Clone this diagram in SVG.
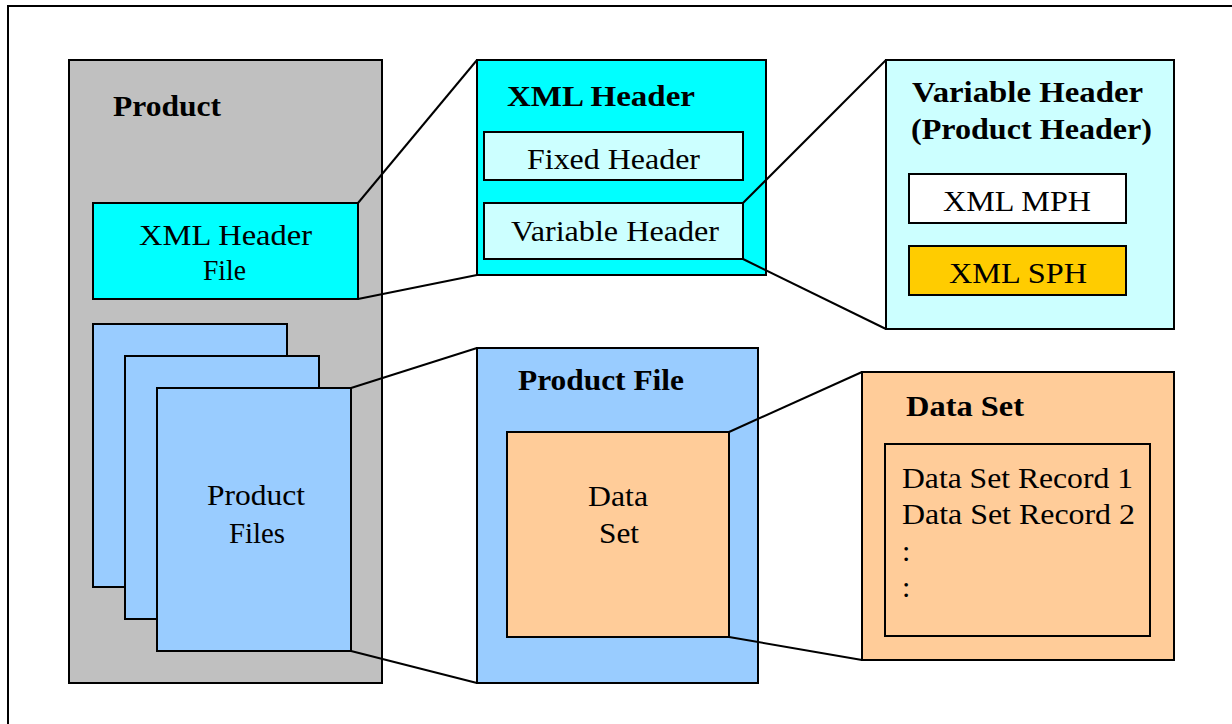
<svg xmlns="http://www.w3.org/2000/svg" width="1232" height="724" viewBox="0 0 1232 724">
<style>
.box{stroke:#000;stroke-width:2}
.t{font-family:"Liberation Serif","Times New Roman",serif;font-size:30px;fill:#000}
.b{font-weight:bold}
.ln{stroke:#000;stroke-width:2;fill:none}
</style>
<rect width="1232" height="724" fill="#fff"/>
<path d="M8,724 V6 H1232" class="ln"/>
<g id="product">
<rect class="box" x="69" y="60" width="313" height="623" fill="#C0C0C0"/>
<text class="t b" x="113" y="116" textLength="108" lengthAdjust="spacingAndGlyphs">Product</text>
</g>
<g id="xml-header-file">
<rect class="box" x="93" y="203" width="265" height="96" fill="#00FFFF"/>
<text class="t" x="139" y="245" textLength="173" lengthAdjust="spacingAndGlyphs">XML Header</text>
<text class="t" x="203" y="280" textLength="43" lengthAdjust="spacingAndGlyphs">File</text>
</g>
<g id="product-files">
<rect class="box" x="93" y="324" width="194" height="263" fill="#99CCFF"/>
<rect class="box" x="125" y="356" width="194" height="263" fill="#99CCFF"/>
<rect class="box" x="157" y="388" width="194" height="263" fill="#99CCFF"/>
<text class="t" x="207" y="505" textLength="98" lengthAdjust="spacingAndGlyphs">Product</text>
<text class="t" x="229" y="543" textLength="56" lengthAdjust="spacingAndGlyphs">Files</text>
</g>
<g id="xml-header">
<rect class="box" x="477" y="60" width="289" height="215" fill="#00FFFF"/>
<text class="t b" x="507" y="106" textLength="188" lengthAdjust="spacingAndGlyphs">XML Header</text>
</g>
<g id="fixed-header">
<rect class="box" x="484" y="132" width="259" height="48" fill="#CCFFFF"/>
<text class="t" x="527" y="169" textLength="173" lengthAdjust="spacingAndGlyphs">Fixed Header</text>
</g>
<g id="variable-header">
<rect class="box" x="484" y="203" width="259" height="56" fill="#CCFFFF"/>
<text class="t" x="511" y="241" textLength="208" lengthAdjust="spacingAndGlyphs">Variable Header</text>
</g>
<g id="variable-header-detail">
<rect class="box" x="886" y="60" width="288" height="269" fill="#CCFFFF"/>
<text class="t b" x="912" y="102" textLength="231" lengthAdjust="spacingAndGlyphs">Variable  Header</text>
<text class="t b" x="911" y="139" textLength="241" lengthAdjust="spacingAndGlyphs">(Product Header)</text>
</g>
<g id="xml-mph">
<rect class="box" x="909" y="174" width="217" height="49" fill="#FFFFFF"/>
<text class="t" x="943" y="211" textLength="148" lengthAdjust="spacingAndGlyphs">XML MPH</text>
</g>
<g id="xml-sph">
<rect class="box" x="909" y="246" width="217" height="49" fill="#FFCC00"/>
<text class="t" x="949" y="283" textLength="138" lengthAdjust="spacingAndGlyphs">XML SPH</text>
</g>
<g id="product-file">
<rect class="box" x="477" y="348" width="281" height="335" fill="#99CCFF"/>
<text class="t b" x="518" y="390" textLength="166" lengthAdjust="spacingAndGlyphs">Product File</text>
</g>
<g id="data-set-small">
<rect class="box" x="507" y="432" width="222" height="205" fill="#FFCC99"/>
<text class="t" x="588" y="506" textLength="60" lengthAdjust="spacingAndGlyphs">Data</text>
<text class="t" x="599" y="543" textLength="40" lengthAdjust="spacingAndGlyphs">Set</text>
</g>
<g id="data-set">
<rect class="box" x="862" y="372" width="312" height="288" fill="#FFCC99"/>
<text class="t b" x="906" y="416" textLength="118" lengthAdjust="spacingAndGlyphs">Data Set</text>
<rect class="box" x="885" y="444" width="265" height="192" fill="#FFCC99"/>
<text class="t" x="902" y="488" textLength="231" lengthAdjust="spacingAndGlyphs">Data Set Record 1</text>
<text class="t" x="902" y="524" textLength="233" lengthAdjust="spacingAndGlyphs">Data Set Record 2</text>
<text class="t" x="902" y="561">:</text>
<text class="t" x="902" y="597">:</text>
</g>
<g id="connectors" class="ln">
<line x1="358" y1="203" x2="477" y2="60"/>
<line x1="358" y1="299" x2="477" y2="275"/>
<line x1="743" y1="203" x2="886" y2="60"/>
<line x1="743" y1="259" x2="886" y2="329"/>
<line x1="351" y1="388" x2="477" y2="348"/>
<line x1="351" y1="651" x2="477" y2="683"/>
<line x1="729" y1="432" x2="862" y2="372"/>
<line x1="729" y1="637" x2="862" y2="660"/>
</g>
</svg>
